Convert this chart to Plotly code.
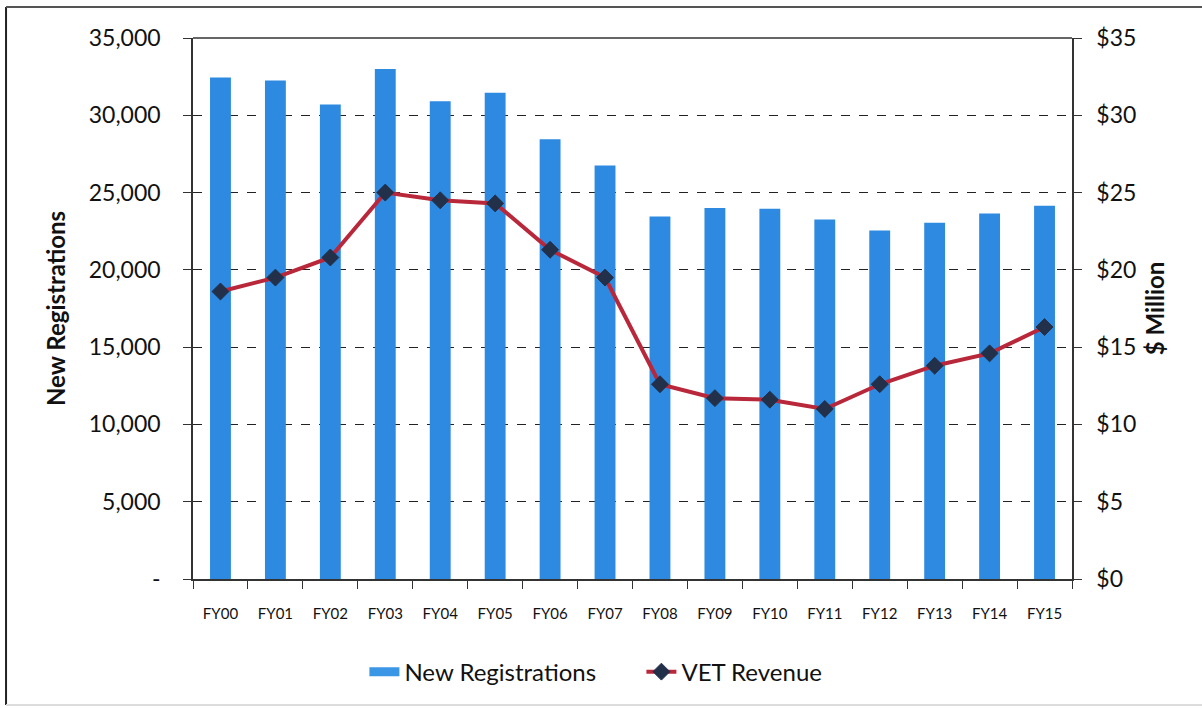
import plotly.graph_objects as go

categories = ["FY00", "FY01", "FY02", "FY03", "FY04", "FY05", "FY06", "FY07",
              "FY08", "FY09", "FY10", "FY11", "FY12", "FY13", "FY14", "FY15"]
new_registrations = [32450, 32250, 30700, 33000, 30900, 31450, 28450, 26750,
                     23450, 24000, 23950, 23250, 22550, 23050, 23650, 24150]
vet_revenue = [18.6, 19.5, 20.8, 25.0, 24.5, 24.3, 21.3, 19.5,
               12.6, 11.7, 11.6, 11.0, 12.6, 13.8, 14.6, 16.3]

left_ticks = [0, 5000, 10000, 15000, 20000, 25000, 30000, 35000]
left_labels = ["-", "5,000", "10,000", "15,000", "20,000", "25,000", "30,000", "35,000"]
right_ticks = [0, 5, 10, 15, 20, 25, 30, 35]
right_labels = ["$0", "$5", "$10", "$15", "$20", "$25", "$30", "$35"]

FONT = "Lato, 'Open Sans', sans-serif"
BAR_COLOR = "#2d8ae0"

fig = go.Figure()
fig.add_trace(go.Bar(
    x=categories, y=new_registrations, name="New Registrations",
    marker=dict(color=BAR_COLOR, line=dict(width=0)),
    width=0.38, yaxis="y", showlegend=False,
))
# legend entry drawn as a wide band, like the reference
fig.add_trace(go.Scatter(
    x=[None], y=[None], name="New Registrations", mode="lines",
    line=dict(color="#3b96e6", width=9), yaxis="y",
))
fig.add_trace(go.Scatter(
    x=categories, y=vet_revenue, name="VET Revenue", yaxis="y2",
    mode="lines+markers",
    line=dict(color="#b8283a", width=4),
    marker=dict(symbol="diamond", size=13, color="#22304a",
                line=dict(color="#22304a", width=1)),
))

fig.update_layout(
    width=1202, height=708,
    margin=dict(l=193, r=130, t=38, b=129),
    paper_bgcolor="white", plot_bgcolor="white",
    font=dict(family=FONT, color="#111111"),
    showlegend=True,
    legend=dict(orientation="h", x=0.195, xanchor="left", y=-0.172, yanchor="middle",
                font=dict(size=24, family=FONT), traceorder="normal",
                entrywidth=232, entrywidthmode="pixels",
                bgcolor="rgba(0,0,0,0)"),
    xaxis=dict(
        type="category", showgrid=False,
        showline=True, linecolor="#333333", linewidth=1.5,
        ticks="outside", tickson="boundaries", ticklen=8, tickcolor="#333333",
        tickfont=dict(size=15, family=FONT), ticklabelstandoff=20,
        range=[-0.5, 15.5],
    ),
    yaxis=dict(
        range=[0, 35000], tickvals=left_ticks, ticktext=left_labels,
        showgrid=True, gridcolor="#222222", griddash="dash", gridwidth=1,
        showline=True, linecolor="#333333", linewidth=1.5,
        ticks="outside", ticklen=8, tickcolor="#333333",
        tickfont=dict(size=23, family=FONT), ticklabelstandoff=18,
        title=dict(text="<b>New Registrations</b>", font=dict(size=24, family=FONT), standoff=16),
        zeroline=False,
    ),
    yaxis2=dict(
        range=[0, 35], tickvals=right_ticks, ticktext=right_labels,
        overlaying="y", side="right", showgrid=False,
        showline=True, linecolor="#333333", linewidth=1.5,
        ticks="outside", ticklen=8, tickcolor="#333333",
        tickfont=dict(size=23, family=FONT), ticklabelstandoff=10,
        title=dict(text="<b>$ Million</b>", font=dict(size=24, family=FONT), standoff=12),
        zeroline=False,
    ),
)

# outer frame of the chart (left and top edges dark, bottom faint)
fig.add_shape(type="line", xref="paper", yref="paper",
              x0=-0.2127, x1=-0.2127, y0=-0.233, y1=1.0573,
              line=dict(color="#222222", width=2))
fig.add_shape(type="line", xref="paper", yref="paper",
              x0=-0.2127, x1=1.151, y0=1.0573, y1=1.0573,
              line=dict(color="#555555", width=2))
fig.add_shape(type="line", xref="paper", yref="paper",
              x0=-0.2127, x1=1.151, y0=-0.233, y1=-0.233,
              line=dict(color="#dddddd", width=2))
# top border of plot area
fig.add_shape(type="line", xref="paper", yref="paper", x0=0, x1=1, y0=1, y1=1,
              line=dict(color="#333333", width=1.5))

fig.write_html("out.html", config={"displayModeBar": False},
               post_script="document.body.style.margin='0';")
